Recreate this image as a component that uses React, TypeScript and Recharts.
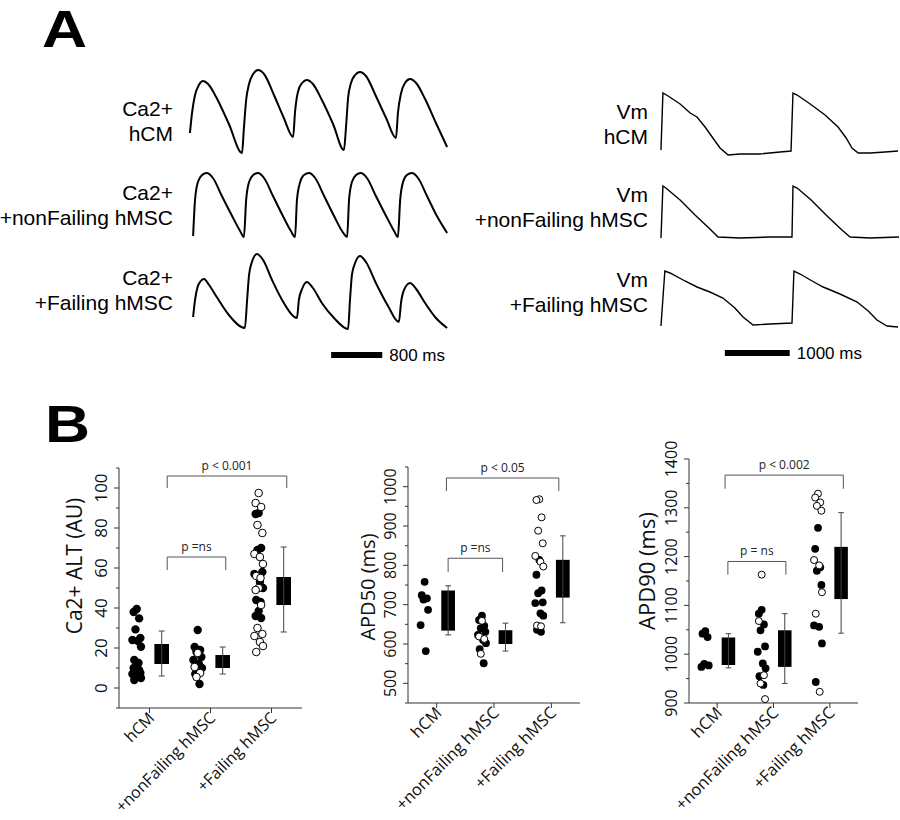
import React from 'react';
import {
  LineChart, Line, XAxis, YAxis, ReferenceLine, ReferenceArea, ScatterChart, Scatter,
} from 'recharts';

const FONT_A = '"Liberation Sans", Arial, sans-serif';
const FONT_B = '"Open Sans", "Liberation Sans", sans-serif';

// ---- Panel A: traces as [time (ms), signal (a.u.)] ----
const caHcm = [
  [30, 27], [65, 48], [110, 65], [170, 75], [235, 79], [315, 76], [440, 63], [640, 36], [845, 7],
  [875, 32], [910, 60], [955, 76], [1020, 86], [1095, 90], [1190, 86], [1345, 65], [1500, 42], [1645, 23],
  [1675, 48], [1720, 68], [1785, 77], [1860, 80], [1955, 76], [2095, 60], [2270, 36], [2440, 10],
  [2475, 35], [2505, 62], [2550, 77], [2615, 85], [2690, 88], [2785, 84], [2940, 64], [3100, 42], [3255, 22],
  [3285, 47], [3335, 67], [3395, 77], [3475, 81], [3570, 77], [3710, 61], [3880, 37], [4055, 13],
];
const caNonFailing = [
  [80, 24], [110, 60], [155, 78], [220, 85], [295, 87], [390, 82], [530, 64], [690, 44], [815, 29], [875, 23],
  [910, 60], [955, 78], [1020, 85], [1095, 87], [1190, 82], [1330, 64], [1485, 44], [1610, 29], [1675, 23],
  [1705, 60], [1755, 78], [1815, 85], [1895, 87], [1990, 82], [2130, 64], [2285, 44], [2410, 29], [2490, 23],
  [2520, 60], [2565, 78], [2630, 85], [2705, 87], [2800, 82], [2940, 64], [3100, 44], [3225, 29], [3285, 23],
  [3320, 60], [3365, 78], [3425, 85], [3505, 87], [3600, 82], [3740, 64], [3895, 44], [4055, 27],
];
const caFailing = [
  [80, 28], [110, 45], [150, 58], [200, 64], [250, 66], [330, 60], [450, 48], [640, 30], [890, 17],
  [925, 45], [955, 70], [1000, 83], [1080, 91], [1175, 85], [1315, 65], [1500, 42], [1705, 27],
  [1735, 45], [1785, 56], [1860, 63], [1955, 57], [2095, 42], [2285, 27], [2505, 16],
  [2535, 45], [2565, 70], [2615, 82], [2690, 89], [2785, 83], [2940, 62], [3130, 39], [3300, 23],
  [3335, 43], [3380, 55], [3475, 62], [3570, 56], [3710, 42], [3880, 27], [4055, 17],
];
const vmHcm = [
  [15, 10], [45, 67], [125, 64], [310, 56], [465, 47], [570, 43], [695, 33], [815, 22], [925, 12], [1050, 5],
  [1235, 6], [1540, 6], [1850, 8], [2020, 9], [2050, 67], [2115, 65], [2315, 56], [2545, 45], [2745, 33],
  [2870, 22], [2960, 12], [3055, 7], [3240, 7], [3470, 8], [3670, 9],
];
const vmNonFailing = [
  [15, 7], [45, 59], [90, 57], [310, 45], [540, 30], [770, 16], [895, 8], [1235, 7], [1695, 8], [2035, 8],
  [2050, 59], [2115, 57], [2330, 45], [2560, 30], [2805, 15], [2930, 8], [3240, 7], [3685, 8],
];
const vmFailing = [
  [15, 9], [75, 64], [155, 62], [385, 54], [570, 48], [770, 43], [970, 37], [1155, 27], [1280, 18], [1435, 10],
  [1695, 11], [2035, 12], [2065, 64], [2160, 61], [2345, 54], [2515, 48], [2775, 41], [3040, 33], [3210, 24],
  [3345, 15], [3500, 9], [3670, 8],
];
const caScaleBar = { from: 2240, to: 3040, label: '800 ms' };
const vmScaleBar = { from: 1000, to: 2000, label: '1000 ms' };

// ---- Panel B ----
const categories = ['hCM', '+nonFailing hMSC', '+Failing hMSC'];

// Ca2+ ALT (AU)
const altFilled = [
  [39.5, 38, 34.8, 29.3, 25, 24, 23.5, 20.6, 14, 12.5, 11, 10, 9, 8, 7.5, 7, 6, 5, 4],
  [29, 20.5, 19, 18, 15.5, 14, 12, 10, 7, 2],
  [87.5, 87, 70, 69, 58, 57, 53, 50, 44, 43, 38.5, 36, 35],
];
const altOpen = [
  [],
  [17.5, 10.5, 7.5, 5.5],
  [97.5, 92.5, 90.5, 81.5, 77.5, 67, 65.5, 62, 56, 55, 50, 49, 41.5, 30, 27, 26, 23, 21, 18],
];
const altBoxes = [
  { lo: 6, q1: 12, q3: 22, hi: 28.5 },
  { lo: 7, q1: 10, q3: 16.5, hi: 20.5 },
  { lo: 28, q1: 41.5, q3: 55.5, hi: 70.5 },
];
const altTicks = [-10, 0, 10, 20, 30, 40, 50, 60, 70, 80, 90, 100, 110];
const altBrackets = [
  { x1: 0.79, x2: 2.75, y: 106, leg: 100, text: 'p  < 0.001' },
  { x1: 0.79, x2: 1.75, y: 65.5, leg: 59, text: 'p =ns' },
];

// APD50 (ms)
const apd50Filled = [
  [758, 724, 716, 713, 687, 648, 582],
  [672, 661, 646, 640, 631, 623, 610, 602, 587, 551],
  [814, 776, 736, 729, 706, 704, 678, 672, 636, 631],
];
const apd50Open = [
  [],
  [659, 619, 613, 575],
  [968, 966, 922, 888, 856, 824, 809, 797, 647, 645],
];
const apd50Boxes = [
  { lo: 623, q1: 634, q3: 736, hi: 748 },
  { lo: 582, q1: 600, q3: 635, hi: 653 },
  { lo: 654, q1: 718, q3: 814, hi: 875 },
];
const apd50Ticks = [450, 500, 550, 600, 650, 700, 750, 800, 850, 900, 950, 1000, 1050];
const apd50Brackets = [
  { x1: 0.67, x2: 2.63, y: 1022, leg: 989, text: 'p  < 0.05' },
  { x1: 0.7, x2: 1.65, y: 818, leg: 783, text: 'p =ns' },
];

// APD90 (ms)
const apd90Filled = [
  [1047, 1042, 1035, 980, 977, 974],
  [1091, 1083, 1061, 1049, 1016, 1005, 981, 971, 955, 937],
  [1259, 1216, 1178, 1171, 1142, 1059, 1056, 1022, 943],
];
const apd90Open = [
  [],
  [1163, 1068, 957, 940, 908],
  [1329, 1321, 1311, 1304, 1294, 1193, 1182, 1127, 1083, 923],
];
const apd90Boxes = [
  { lo: 972, q1: 978, q3: 1034, hi: 1042 },
  { lo: 940, q1: 974, q3: 1049, hi: 1083 },
  { lo: 1043, q1: 1113, q3: 1220, hi: 1290 },
];
const apd90Ticks = [900, 950, 1000, 1050, 1100, 1150, 1200, 1250, 1300, 1350, 1400];
const apd90Brackets = [
  { x1: 0.64, x2: 2.74, y: 1367, leg: 1339, text: 'p < 0.002' },
  { x1: 0.69, x2: 1.72, y: 1190, leg: 1163, text: 'p = ns' },
];

const DOT_DX = -0.21;
const BOX_DX = 0.2;
const BOX_HALF = 0.12;
const CAP_HALF = 0.05;
const JITTER = [0, -0.05, 0.04, -0.02, 0.06, -0.07, 0.02, 0.07, -0.04, 0.03];

const toPts = (arr: number[][]) => arr.map(([t, v]) => ({ t, v }));

const Trace = ({ data, left, top, width, height, tMax, yDomain, curve, sw, bar }: any) => (
  <div style={{ position: 'absolute', left, top }}>
    <LineChart width={width} height={height} data={toPts(data)} margin={{ top: 0, right: 0, bottom: 0, left: 0 }}>
      <XAxis dataKey="t" type="number" domain={[0, tMax]} hide allowDataOverflow />
      <YAxis type="number" domain={yDomain} hide allowDataOverflow />
      <Line dataKey="v" type={curve} stroke="#000" strokeWidth={sw} dot={false} isAnimationActive={false} />
      {bar && (
        <ReferenceLine
          segment={[{ x: bar.from, y: bar.y }, { x: bar.to, y: bar.y }]}
          stroke="#000"
          strokeWidth={6}
          label={{ value: bar.label, position: 'right', offset: 7, fontSize: 17, fill: '#000', fontFamily: FONT_A }}
        />
      )}
    </LineChart>
  </div>
);

const TraceLabel = ({ lines, right, top }: any) => (
  <div
    style={{
      position: 'absolute', right: 900 - right, top, textAlign: 'right', fontFamily: FONT_A,
      fontSize: 21, lineHeight: '25px', whiteSpace: 'nowrap', color: '#000',
    }}
  >
    {lines.map((l: string) => <div key={l}>{l}</div>)}
  </div>
);

const makeYTick = (majorStep: number, fontSize: number) => (p: any) => {
  const { x, y, payload } = p;
  const v = payload.value;
  const major = v % majorStep === 0;
  const lx = x - 12;
  return (
    <g>
      <line x1={x - (major ? 5 : 3)} x2={x} y1={y} y2={y} stroke="#333" />
      {major && (
        <text x={lx} y={y} transform={`rotate(-90 ${lx} ${y})`} textAnchor="middle" fontSize={fontSize} fontFamily={FONT_B} fill="#111">
          {v}
        </text>
      )}
    </g>
  );
};

const makeXTick = (fontSize: number) => (p: any) => {
  const { x, y, payload } = p;
  const label = categories[Math.round(payload.value - 0.5)];
  const ax = x + 6;
  const ay = y + 11;
  return (
    <g>
      <line x1={x} x2={x} y1={y} y2={y + 5} stroke="#333" />
      <text x={ax} y={ay} transform={`rotate(-45 ${ax} ${ay})`} textAnchor="end" fontSize={fontSize} fontFamily={FONT_B} fill="#111">
        {label}
      </text>
    </g>
  );
};

const toDots = (groups: number[][]) =>
  groups.flatMap((vals, c) => vals.map((v, i) => ({ x: c + 0.5 + DOT_DX + JITTER[i % JITTER.length], y: v })));

const DotPlot = ({ cfg }: any) => {
  const { left, top, width, height, margin, xAxisHeight, yDomain, yTicks, majorStep, tickFont, catFont, filled, open, boxes, brackets, r } = cfg;
  const filledDot = (p: any) => <circle cx={p.cx} cy={p.cy} r={r} fill="#000" />;
  const openDot = (p: any) => <circle cx={p.cx} cy={p.cy} r={r - 0.4} fill="#fff" stroke="#000" strokeWidth={1} />;
  const boxEls = boxes.flatMap((b: any, i: number) => {
    const c = i + 0.5 + BOX_DX;
    return [
      <ReferenceLine key={`w${i}`} segment={[{ x: c, y: b.lo }, { x: c, y: b.hi }]} stroke="#444" strokeWidth={1} />,
      <ReferenceLine key={`ch${i}`} segment={[{ x: c - CAP_HALF, y: b.hi }, { x: c + CAP_HALF, y: b.hi }]} stroke="#444" strokeWidth={1} />,
      <ReferenceLine key={`cl${i}`} segment={[{ x: c - CAP_HALF, y: b.lo }, { x: c + CAP_HALF, y: b.lo }]} stroke="#444" strokeWidth={1} />,
      <ReferenceArea key={`b${i}`} x1={c - BOX_HALF} x2={c + BOX_HALF} y1={b.q1} y2={b.q3} fill="#000" fillOpacity={1} stroke="none" />,
    ];
  });
  const bracketEls = brackets.flatMap((b: any, i: number) => [
    <ReferenceLine
      key={`bh${i}`}
      segment={[{ x: b.x1, y: b.y }, { x: b.x2, y: b.y }]}
      stroke="#555"
      strokeWidth={1}
      label={{ value: b.text, position: 'top', offset: 6, fontSize: 12, fill: '#222', fontFamily: FONT_B }}
    />,
    <ReferenceLine key={`bl${i}`} segment={[{ x: b.x1, y: b.y }, { x: b.x1, y: b.leg }]} stroke="#555" strokeWidth={1} />,
    <ReferenceLine key={`br${i}`} segment={[{ x: b.x2, y: b.y }, { x: b.x2, y: b.leg }]} stroke="#555" strokeWidth={1} />,
  ]);
  return (
    <div style={{ position: 'absolute', left, top }}>
      <ScatterChart width={width} height={height} margin={margin}>
        <XAxis
          type="number" dataKey="x" domain={[0, 3]} ticks={[0.5, 1.5, 2.5]} interval={0} height={xAxisHeight}
          tick={makeXTick(catFont)} tickLine={false} tickSize={0} tickMargin={0} stroke="#333" allowDataOverflow
        />
        <YAxis
          type="number" dataKey="y" domain={yDomain} ticks={yTicks} interval={0} width={40}
          tick={makeYTick(majorStep, tickFont)} tickLine={false} tickSize={0} tickMargin={0} stroke="#333" allowDataOverflow
        />
        {boxEls}
        {bracketEls}
        <Scatter data={toDots(filled)} shape={filledDot} isAnimationActive={false} />
        <Scatter data={toDots(open)} shape={openDot} isAnimationActive={false} />
      </ScatterChart>
    </div>
  );
};

const AxisTitle = ({ text, cx, cy, size }: any) => (
  <div
    style={{
      position: 'absolute', left: cx, top: cy, transform: 'translate(-50%, -50%) rotate(-90deg)',
      whiteSpace: 'nowrap', fontFamily: FONT_B, fontSize: size, color: '#111', lineHeight: 1.3,
    }}
  >
    {text}
  </div>
);

const PanelLetter = ({ text, left, top }: any) => (
  <div
    style={{
      position: 'absolute', left, top, fontFamily: FONT_A, fontWeight: 900,
      fontSize: 52, lineHeight: '52px', transform: 'scaleX(1.2)', transformOrigin: 'left center',
    }}
  >
    {text}
  </div>
);

const charts = [
  {
    left: 40, top: 440, width: 290, height: 380, margin: { top: 28, right: 28, bottom: 0, left: 39 }, xAxisHeight: 112,
    yDomain: [-10, 110], yTicks: altTicks, majorStep: 20, tickFont: 17, catFont: 16, r: 4.2,
    filled: altFilled, open: altOpen, boxes: altBoxes, brackets: altBrackets,
  },
  {
    left: 330, top: 440, width: 270, height: 380, margin: { top: 27, right: 20, bottom: 0, left: 38 }, xAxisHeight: 117,
    yDomain: [450, 1050], yTicks: apd50Ticks, majorStep: 100, tickFont: 16, catFont: 16.5, r: 3.9,
    filled: apd50Filled, open: apd50Open, boxes: apd50Boxes, brackets: apd50Brackets,
  },
  {
    left: 610, top: 430, width: 270, height: 390, margin: { top: 29, right: 22, bottom: 0, left: 39 }, xAxisHeight: 117,
    yDomain: [900, 1400], yTicks: apd90Ticks, majorStep: 100, tickFont: 16, catFont: 16.5, r: 3.9,
    filled: apd90Filled, open: apd90Open, boxes: apd90Boxes, brackets: apd90Brackets,
  },
];

export default function App() {
  return (
    <div style={{ position: 'absolute', left: 0, top: 0, width: 900, height: 820, background: '#fff', overflow: 'hidden' }}>
      <PanelLetter text="A" left={42} top={3} />
      <PanelLetter text="B" left={45} top={398} />

      <TraceLabel lines={['Ca2+', 'hCM']} right={173} top={96} />
      <TraceLabel lines={['Ca2+', '+nonFailing hMSC']} right={173} top={180} />
      <TraceLabel lines={['Ca2+', '+Failing hMSC']} right={173} top={265} />
      <TraceLabel lines={['Vm', 'hCM']} right={648} top={99} />
      <TraceLabel lines={['Vm', '+nonFailing hMSC']} right={648} top={182} />
      <TraceLabel lines={['Vm', '+Failing hMSC']} right={648} top={267} />

      <Trace data={caHcm} left={188} top={60} width={262} height={100} tMax={4100} yDomain={[0, 100]} curve="monotone" sw={2} />
      <Trace data={caNonFailing} left={188} top={160} width={262} height={100} tMax={4100} yDomain={[0, 100]} curve="monotone" sw={2} />
      <Trace data={caFailing} left={188} top={245} width={262} height={135} tMax={4100} yDomain={[-35, 100]} curve="monotone" sw={2}
        bar={{ ...caScaleBar, y: -10 }} />
      <Trace data={vmHcm} left={660} top={60} width={240} height={100} tMax={3700} yDomain={[0, 100]} curve="linear" sw={1.4} />
      <Trace data={vmNonFailing} left={660} top={145} width={240} height={100} tMax={3700} yDomain={[0, 100]} curve="linear" sw={1.4} />
      <Trace data={vmFailing} left={660} top={235} width={240} height={145} tMax={3700} yDomain={[-45, 100]} curve="linear" sw={1.4}
        bar={{ ...vmScaleBar, y: -18 }} />

      {charts.map((c, i) => <DotPlot key={i} cfg={c} />)}
      <AxisTitle text="Ca2+  ALT (AU)" cx={75} cy={566} size={21} />
      <AxisTitle text="APD50 (ms)" cx={368} cy={587} size={20} />
      <AxisTitle text="APD90 (ms)" cx={646} cy={571} size={22} />
    </div>
  );
}
